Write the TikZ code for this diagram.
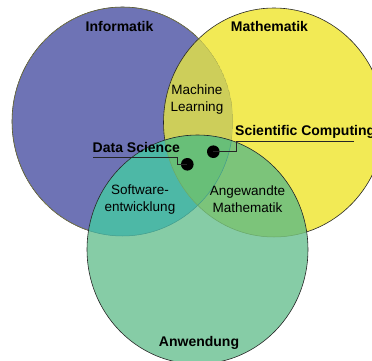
\documentclass[tikz,border=0pt]{standalone}
\usepackage{fontspec}
\setmainfont{Liberation Sans}
\definecolor{cblue}{HTML}{6E73B5}
\definecolor{cyellow}{HTML}{F2EA55}
\definecolor{cgreen}{HTML}{86CCA6}
\definecolor{cby}{HTML}{CDCE5A}
\definecolor{cbg}{HTML}{4DB8A6}
\definecolor{cyg}{HTML}{7CC47A}
\definecolor{cbyg}{HTML}{68BF78}
\tikzset{
  rim/.style={draw=black!85, line width=0.6pt},
  faint/.style={line width=0.5pt},
  title/.style={font=\fontsize{14}{16}\selectfont\bfseries, inner sep=0pt},
  region/.style={font=\fontsize{13.5}{17}\selectfont, align=center, inner sep=0pt},
  dot/.style={circle, fill=black, inner sep=0pt, minimum size=12.6pt},
  lead/.style={line width=0.8pt, black!85}
}
\def\Bpath{(122.5,121.5) ellipse [x radius=110.5, y radius=114.5]}
\def\Ypath{(274,122.5) ellipse [x radius=110.5, y radius=114.5]}
\def\Gpath{(197.5,249.5) ellipse [x radius=110.5, y radius=114.5]}
\begin{document}
\begin{tikzpicture}[x=1pt,y=-1pt]
\useasboundingbox (0,0) rectangle (372,361);
\begin{scope}
\clip (0,0) rectangle (372,361);
% blue
\fill[cblue] \Bpath;
\draw[rim] \Bpath;
% yellow
\fill[cyellow] \Ypath;
\begin{scope}
  \clip \Bpath;
  \fill[cby] \Ypath;
  \draw[faint, cby!80!black] \Bpath;
\end{scope}
\draw[rim] \Ypath;
% green
\fill[cgreen] \Gpath;
\begin{scope}
  \clip \Gpath;
  \fill[cbg] \Bpath;
  \fill[cyg] \Ypath;
  \begin{scope}
    \clip \Bpath;
    \fill[cbyg] \Ypath;
  \end{scope}
  \draw[faint, cbg!85!black] \Bpath;
  \draw[faint, cyg!85!black] \Ypath;
\end{scope}
\draw[rim] \Gpath;
\end{scope}
% titles
\node[title] (inf) at (119.5,26) {Informatik};
\node[title] (mat) at (269.5,26) {Mathematik};
\node[title] (anw) at (199,343) {Anwendung};
% regions
\node[region] (ml) at (197,99.5) {Machine\\Learning};
\node[region] (sw) at (140,199.5) {Software-\\entwicklung};
\node[region] (am) at (247.5,199.5) {Angewandte\\Mathematik};
% labels with leaders
\node[title, anchor=base west] (sc) at (235,135) {Scientific Computing};
\node[title, anchor=base west] (ds) at (92.5,152) {Data Science};
\node[dot] (d1) at (213.3,151.7) {};
\node[dot] (d2) at (187.3,164.3) {};
\coordinate (scL) at (236.7,141.7);
\coordinate (scR) at (354,141.7);
\coordinate (dsL) at (93,157.5);
\coordinate (dsR) at (177,157.5);
\draw[lead] (scR) -- (scL) |- (d1.center);
\draw[lead] (dsL) -- (dsR) |- (d2.center);
\end{tikzpicture}
\end{document}
